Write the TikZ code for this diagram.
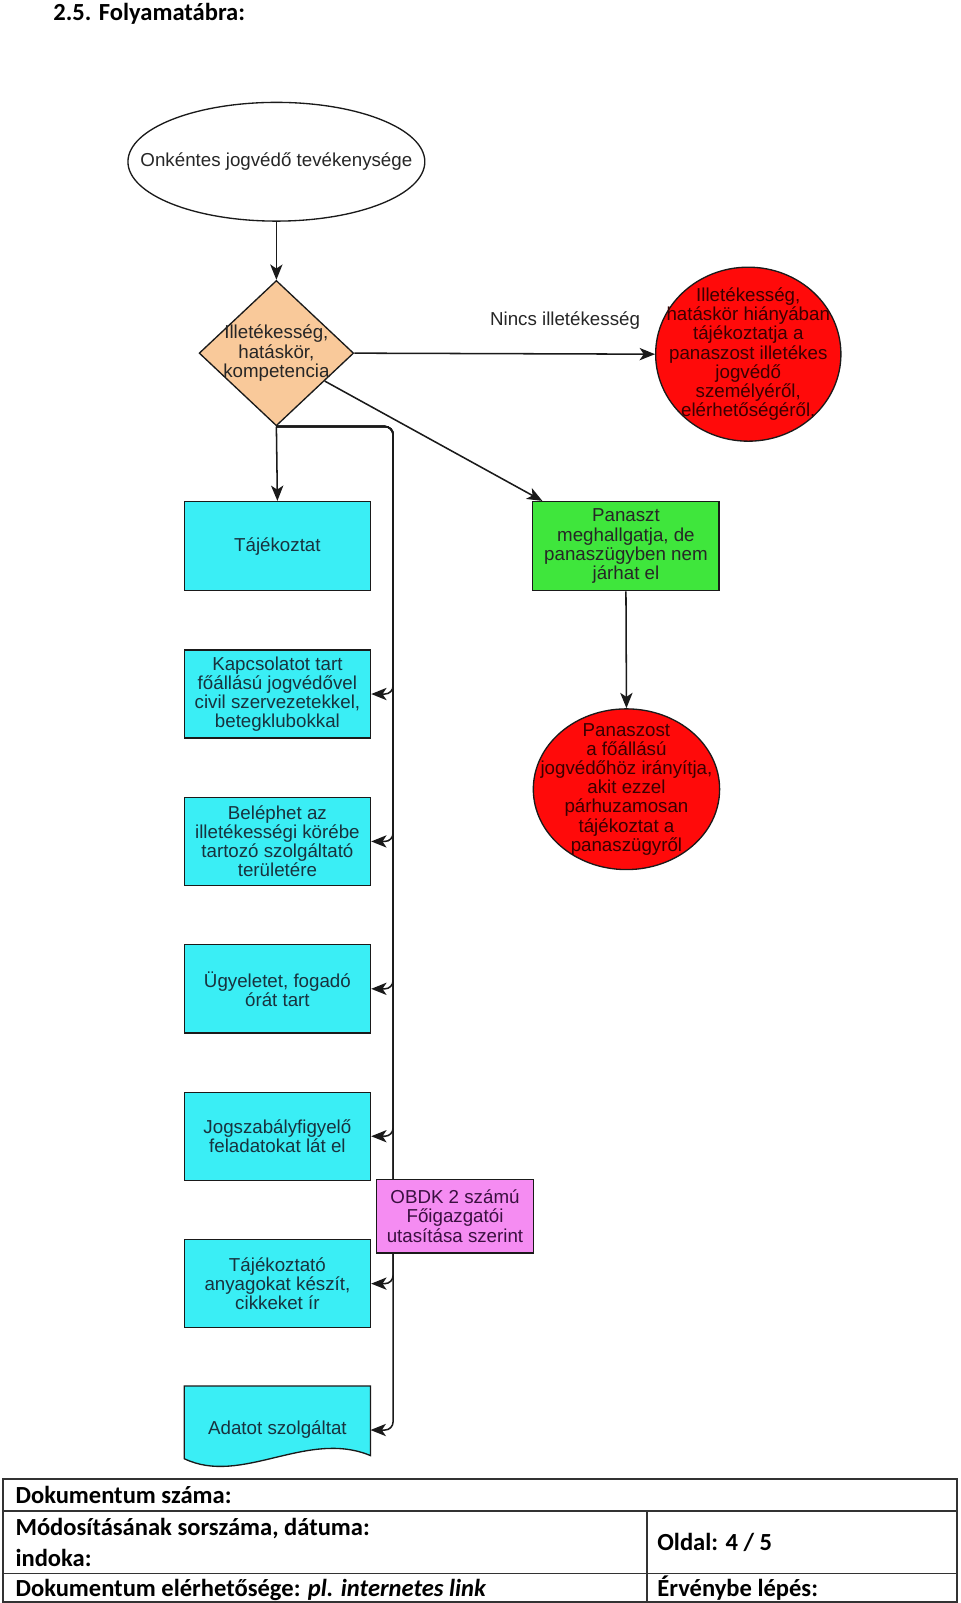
\documentclass[tikz,border=0pt]{standalone}
\usepackage{fontspec}
\setmainfont{Liberation Sans}
\newfontfamily\calibri{Carlito}
\usetikzlibrary{shapes.geometric,arrows.meta}
\definecolor{cyanfill}{HTML}{3AEEF5}
\definecolor{cyantext}{HTML}{18323E}
\definecolor{peach}{HTML}{F9C99A}
\definecolor{greenfill}{HTML}{3FE63C}
\definecolor{redfill}{HTML}{FF0A0A}
\definecolor{redtext}{HTML}{3A0000}
\definecolor{pinkfill}{HTML}{F58CF2}
\definecolor{pinktext}{HTML}{3A1040}
\definecolor{linec}{HTML}{1A1A1A}
\begin{document}
\begin{tikzpicture}[x=1pt,y=-1pt,
  arr/.style={draw=linec, line width=1.5pt, -{Stealth[length=15pt,width=12pt,inset=4pt]}},
  bus/.style={arr, rounded corners=8pt},
  dtext/.style={font=\fontsize{18.3}{18.7}\selectfont, align=center, inner sep=0pt},
  boxbase/.style={dtext, draw=linec, line width=1.3pt, minimum width=182pt, minimum height=86pt},
  cybox/.style={boxbase, fill=cyanfill, text=cyantext},
  grbox/.style={boxbase, fill=greenfill, text=black!85},
  pkbox/.style={dtext, draw=linec, line width=1.3pt, fill=pinkfill, text=pinktext, minimum width=153pt, minimum height=72pt},
  ellshape/.style={ellipse, draw=linec, line width=1.3pt, inner sep=0pt},
  diashape/.style={diamond, draw=linec, line width=1.3pt, fill=peach, inner sep=0pt, minimum width=151pt, minimum height=142pt},
  foot/.style={font=\calibri\bfseries\fontsize{24}{28}\selectfont, anchor=base west, inner sep=0pt}
]
\fill[white] (0,0) rectangle (938,1566);

% title
\node[font=\calibri\bfseries\fontsize{24}{28}\selectfont, anchor=base west, inner sep=0pt] (title) at (52,20) {2.5. Folyamatábra:};

% start ellipse
\node[ellshape, fill=white, minimum width=290pt, minimum height=116pt] (start) at (270,158) {};
\node[dtext, text=black!85] (startt) at (start) {Onkéntes jogvédő tevékenysége};

% decision
\node[diashape] (dia) at (270,345) {};
\node[dtext, text=black!85] (diat) at (dia) {Illetékesség,\\hatáskör,\\kompetencia};

% red circle 1
\node[ellshape, fill=redfill, minimum width=181pt, minimum height=170pt] (r1) at (731,346) {};
\node[dtext, text=redtext] (r1t) at (r1) {Illetékesség,\\hatáskör hiányában\\tájékoztatja a\\panaszost illetékes\\jogvédő\\személyéről,\\elérhetőségéről.};

% green
\node[grbox, minimum height=87pt] (green) at (611.5,533.5) {Panaszt\\meghallgatja, de\\panaszügyben nem\\járhat el};

% red ellipse 2
\node[ellshape, fill=redfill, minimum width=182pt, minimum height=157pt] (r2) at (612,771) {};
\node[dtext, text=redtext] (r2t) at (r2) {Panaszost\\a főállású\\jogvédőhöz irányítja,\\akit ezzel\\párhuzamosan\\tájékoztat a\\panaszügyről};

% cyan boxes
\node[cybox, minimum height=87pt] (k0) at (271,533.5) {Tájékoztat};
\node[cybox] (k1) at (271,678) {Kapcsolatot tart\\főállású jogvédővel\\civil szervezetekkel,\\betegklubokkal};
\node[cybox] (k2) at (271,822) {Beléphet az\\illetékességi körébe\\tartozó szolgáltató\\területére};
\node[cybox] (k3) at (271,966) {Ügyeletet, fogadó\\órát tart};
\node[cybox] (k4) at (271,1110) {Jogszabályfigyelő\\feladatokat lát el};
\node[cybox] (k5) at (271,1254) {Tájékoztató\\anyagokat készít,\\cikkeket ír};

% document shape
\filldraw[fill=cyanfill, draw=linec, line width=1.3pt]
  (180,1354) -- (362,1354) -- (362,1422)
  .. controls (300,1396) and (236,1452) .. (180,1425) -- cycle;
\node[dtext, text=cyantext] (k6) at (271,1397) {Adatot szolgáltat};
\coordinate (k6e) at (362,1397);

% connectors
\draw[arr] (start.south) -- (dia.north);
\draw[arr] (dia.east) -- (r1.west);
\node[dtext, text=black!85] (nolabel) at (552,313) {Nincs illetékesség};
\draw[arr] (dia.-30) -- ([xshift=10pt]green.north west);
\draw[arr] (green.south) -- (r2.north);
\draw[arr] (dia.south) -- (k0.north);
\foreach \t in {k1,k2,k3,k4,k5}
  \draw[bus] (dia.south) -- ++(114,0) |- (\t.east);
\draw[bus] (dia.south) -- ++(114,0) |- (k6e);

% pink note on top of the bus
\node[pkbox] (obdk) at (444.5,1188) {OBDK 2 számú\\Főigazgatói\\utasítása szerint};

% footer table
\draw[line width=1.3pt, draw=black!80] (3,1445) rectangle (935,1565);
\draw[line width=1.3pt, draw=black!80] (3,1476) -- (935,1476);
\draw[line width=1.3pt, draw=black!80] (3,1537) -- (935,1537);
\draw[line width=1.3pt, draw=black!80] (632,1476) -- (632,1565);
\node[foot] (f1) at (15,1469) {Dokumentum száma:};
\node[foot] (f2) at (15,1500) {Módosításának sorszáma, dátuma:};
\node[foot] (f3) at (15,1530) {indoka:};
\node[foot] (f4) at (15,1560) {Dokumentum elérhetősége: \textit{pl. internetes link}};
\node[foot] (f5) at (642,1515) {Oldal: 4 / 5};
\node[foot] (f6) at (642,1560) {Érvénybe lépés:};
\end{tikzpicture}
\end{document}
